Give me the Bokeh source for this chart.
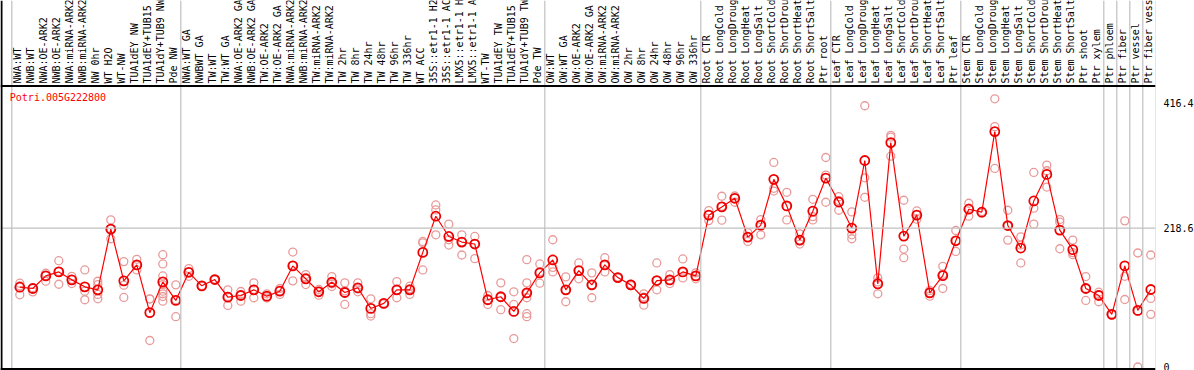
import math
from bokeh.plotting import figure
from bokeh.models import Range1d, LinearAxis, FixedTicker, Span, Label, ColumnDataSource
from bokeh.core.properties import value
from bokeh.embed import file_html
from bokeh.resources import INLINE

title_text = "Potri.005G222800"

labels = [
    "NWA:WT", "NWB:WT", "NWA:OE-ARK2", "NWB:OE-ARK2", "NWA:miRNA-ARK2", "NWB:miRNA-ARK2",
    "NW 0hr", "WT H2O", "WT-NW", "TUA1dEY NW", "TUA1dEY+TUB15 NW", "TUA1dY+TUB9 NW", "Pde NW",
    "NWA:WT GA", "NWBWT GA", "TW:WT", "TW:WT GA", "NWA:OE-ARK2 GA", "NWB:OE-ARK2 GA",
    "TW:OE-ARK2", "TW:OE-ARK2 GA", "NWA:miRNA-ARK2 GA", "NWB:miRNA-ARK2 GA", "TW:miRNA-ARK2",
    "TW:miRNA-ARK2 GA", "TW 2hr", "TW 8hr", "TW 24hr", "TW 48hr", "TW 96hr", "TW 336hr",
    "WT ACC", "35S::etr1-1 H2O", "35S::etr1-1 ACC", "LMX5::etr1-1 H2O", "LMX5::etr1-1 ACC",
    "WT-TW", "TUA1dEY TW", "TUA1dEY+TUB15 TW", "TUA1dY+TUB9 TW", "Pde TW",
    "OW:WT", "OW:WT GA", "OW:OE-ARK2", "OW:OE-ARK2 GA", "OW:miRNA-ARK2", "OW:miRNA-ARK2 GA",
    "OW 2hr", "OW 8hr", "OW 24hr", "OW 48hr", "OW 96hr", "OW 336hr",
    "Root CTR", "Root LongCold", "Root LongDrought", "Root LongHeat", "Root LongSalt",
    "Root ShortCold", "Root ShortDrought", "Root ShortHeat", "Root ShortSalt", "Ptr root",
    "Leaf CTR", "Leaf LongCold", "Leaf LongDrought", "Leaf LongHeat", "Leaf LongSalt",
    "Leaf ShortCold", "Leaf ShortDrought", "Leaf ShortHeat", "Leaf ShortSalt", "Ptr leaf",
    "Stem CTR", "Stem LongCold", "Stem LongDrought", "Stem LongHeat", "Stem LongSalt",
    "Stem ShortCold", "Stem ShortDrought", "Stem ShortHeat", "Stem ShortSalt", "Ptr shoot",
    "Ptr xylem", "Ptr phloem", "Ptr fiber", "Ptr vessel", "Ptr fiber vessel",
]

means = [
    125.6, 123.6, 143.4, 149.7, 137.2, 126.2, 121.5, 217.0, 135.6, 160.7, 85.5, 134.0, 104.8,
    149.1, 127.8, 137.7, 110.0, 112.6, 121.5, 111.5, 119.3, 159.1, 138.8, 118.4, 133.4, 117.3,
    124.7, 92.2, 100.1, 121.5, 121.5, 180.4, 237.4, 205.5, 196.7, 193.6, 105.9, 110.6, 87.5,
    116.8, 148.2,
    168.5, 121.5, 151.8, 129.3, 160.7, 140.8, 129.3, 107.9, 136.1, 137.2, 149.7, 143.4,
    239.0, 252.0, 265.6, 204.5, 223.3, 295.4, 253.6, 199.8, 245.3, 297.4,
    259.8, 218.6, 325.1, 130.9, 353.3, 206.1, 239.0, 116.8, 143.9, 198.7,
    248.4, 243.7, 370.6, 222.7, 187.3, 261.4, 303.2, 215.5, 184.7, 123.6, 112.6,
    82.9, 159.1, 89.1, 122.0,
]

replicates = [
    [131.9, 127.8, 113.7], [124.8, 118.3], [147.6, 135.1, 144.0], [167.4, 150.7, 130.3],
    [142.8, 131.4, 138.0], [152.8, 119.3, 105.9], [135.0, 129.8, 114.2, 107.4],
    [231.6, 201.9, 217.5], [165.9, 128.8, 109.5], [169.5, 152.8, 160.0], [107.4, 41.7, 107.0],
    [176.8, 162.2, 143.4, 129.8, 119.3, 115.2, 111.0, 103.7], [129.3, 79.2, 106.0],
    [154.9, 142.8, 149.5], [128.5, 127.0], [138.5, 137.0], [121.5, 96.9, 111.0],
    [118.9, 103.7, 114.0], [132.5, 109.0, 122.0], [115.2, 111.0, 108.5], [123.6, 114.2, 120.0],
    [181.0, 135.6, 160.0], [145.5, 129.8, 141.0], [113.0, 119.0, 122.0], [142.4, 126.7, 131.0],
    [132.5, 98.5, 120.0], [132.5, 118.4, 123.0], [107.4, 83.9, 80.2], [100.5, 99.5],
    [134.5, 109.0, 121.0], [127.2, 114.2, 123.0], [197.7, 195.5, 152.8], [255.1, 247.3, 208.1],
    [224.9, 200.3, 192.0], [208.1, 176.3, 197.0], [205.5, 170.6, 194.0], [112.6, 98.5, 106.0],
    [132.5, 90.2, 110.0], [118.4, 98.5, 44.8], [169.0, 132.5, 109.0, 83.9, 79.2, 116.0],
    [162.2, 131.9, 150.0],
    [200.3, 156.9, 149.7], [141.9, 102.7, 121.0], [163.8, 138.8, 152.0], [148.2, 109.0, 129.0],
    [172.1, 149.7, 160.0], [141.5, 140.0], [130.5, 128.0], [115.2, 97.4, 110.0],
    [163.8, 121.5, 136.0], [145.5, 131.4, 136.0], [170.1, 140.3, 149.0], [148.2, 138.8, 143.0],
    [246.2, 230.5, 239.5], [268.8, 231.2, 253.0], [269.2, 259.4, 266.0], [211.7, 197.7, 204.0],
    [232.1, 208.1, 223.0], [322.0, 281.3, 277.0], [275.0, 231.6, 253.0], [209.7, 193.6, 199.0],
    [264.0, 236.8, 231.6], [329.8, 302.1, 259.4],
    [268.1, 246.8, 262.0], [244.2, 208.1, 201.9], [411.3, 297.9, 267.2], [140.3, 115.2, 134.0],
    [364.8, 331.9, 362.0], [262.5, 185.7, 172.1], [245.7, 232.7, 240.0], [120.4, 111.5, 117.0],
    [158.5, 123.6, 146.0], [214.9, 182.0, 199.0],
    [257.8, 237.4, 250.0], [245.0, 242.5], [422.2, 378.4, 312.6], [246.8, 199.8, 222.0],
    [205.0, 163.8, 192.0], [306.3, 250.0, 224.9], [317.8, 283.3, 309.0], [232.1, 186.2, 228.0],
    [199.8, 176.8, 180.0], [142.4, 104.8, 124.0], [117.8, 102.7, 114.0],
    [83.5, 82.0], [230.1, 142.8, 106.3], [179.5, 0.0, 88.0], [176.3, 107.9, 82.9],
]

group_starts = [0, 13, 41, 53, 63, 73, 84, 85, 86, 87, 88]
y_ticks = [0, 218.6, 416.4]
grid_value = 218.6

FONT = "DejaVu Sans Mono"
n = len(labels)
x_idx = list(range(n))
sep_pos = [g - 0.615 for g in group_starts]

# data window: plot area below header_line, rotated label band above it
x_lo, x_hi = -1.485, 87.362
y_lo, y_hi = -5.51, 577.0
header_line = 442.4
label_base = 446.3
bottom_line = -3.15
left_line = -1.408

p = figure(frame_width=1155, frame_height=370, output_backend="svg", toolbar_location=None,
           x_range=Range1d(x_lo, x_hi), y_range=Range1d(y_lo, y_hi),
           x_axis_location=None, y_axis_location=None,
           min_border_left=0, min_border_right=39, min_border_top=0, min_border_bottom=0)
p.background_fill_color = "white"
p.border_fill_color = "white"
p.outline_line_color = None
p.grid.visible = False

yax = LinearAxis(ticker=FixedTicker(ticks=y_ticks))
yax.major_label_overrides = {0: "0", 218.6: "218.6", 416.4: "416.4"}
yax.axis_line_color = None
yax.major_tick_line_color = None
yax.minor_tick_line_color = None
yax.major_tick_in = 0
yax.major_tick_out = 0
yax.major_label_standoff = 8
yax.major_label_text_font = FONT
yax.major_label_text_font_size = "10px"
yax.major_label_text_color = "black"
p.add_layout(yax, "right")

# group separators (full height) and grid line
for s in sep_pos:
    p.add_layout(Span(location=s, dimension="height", line_color="#c0c0c0", line_width=1.2))
p.add_layout(Span(location=grid_value, dimension="width", line_color="#c0c0c0", line_width=1.2))

# frame lines
p.add_layout(Span(location=header_line, dimension="width", line_color="black", line_width=2))
p.add_layout(Span(location=bottom_line, dimension="width", line_color="black", line_width=2))
p.add_layout(Span(location=left_line, dimension="height", line_color="black", line_width=2))

# category labels, rotated, reading upward
lab_src = ColumnDataSource(dict(x=[i - 0.2 for i in x_idx], y=[label_base] * n, t=labels))
p.text(x="x", y="y", text="t", source=lab_src, angle=math.pi / 2, text_align="left",
       text_baseline="middle", text_font=value(FONT), text_font_size="10px", text_color="black")

# replicates
rx, ry = [], []
for i, reps in enumerate(replicates):
    for v in reps:
        rx.append(i)
        ry.append(v)
p.scatter(rx, ry, marker="circle", size=8, fill_color=None, line_color="#e89a9a", line_width=1.3)

# mean line and markers
p.line(x_idx, means, line_color="#ff0000", line_width=1.2)
p.scatter(x_idx, means, marker="circle", size=9, fill_color=None, line_color="#ee0000", line_width=1.8)

p.add_layout(Label(x=-0.769, y=424.1, text=title_text, text_color="#ff0000", text_font=FONT,
                   text_font_size="10px", text_baseline="middle"))

open("out.html", "w").write(file_html(p, INLINE))
